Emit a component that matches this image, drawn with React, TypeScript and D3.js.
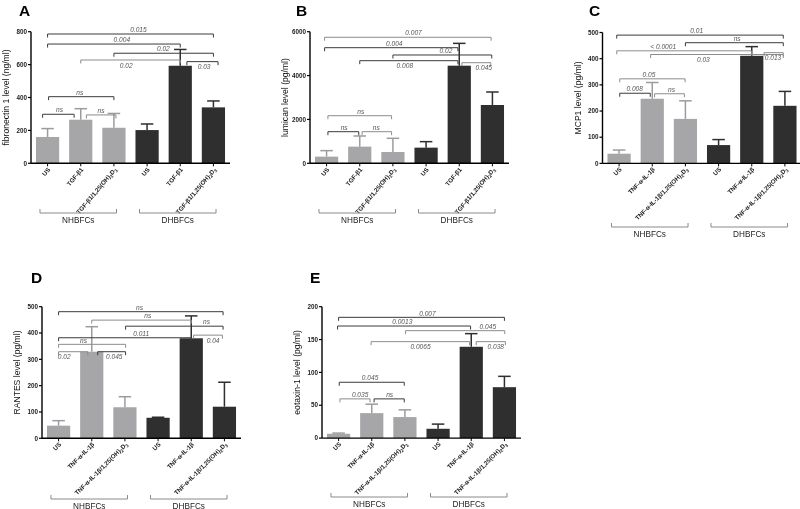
import React from "react";
import * as d3 from "d3";

// ---------- categories ----------
const catsTGF = ["US", "TGF-β1", "TGF-β1/1,25(OH)₂D₃", "US", "TGF-β1", "TGF-β1/1,25(OH)₂D₃"];
const catsTNF = ["US", "TNF-α-IL-1β", "TNF-α-IL-1β/1,25(OH)₂D₃", "US", "TNF-α-IL-1β", "TNF-α-IL-1β/1,25(OH)₂D₃"];
const groupNames = ["NHBFCs", "DHBFCs"];

// ---------- values (mean, error) ----------
const fibronectinMean = [160, 265, 216, 202, 593, 340];
const fibronectinErr = [51, 67, 87, 37, 99, 39];
const lumicanMean = [304, 760, 516, 714, 4451, 2658];
const lumicanErr = [273, 485, 623, 273, 1017, 593];
const mcp1Mean = [37, 247, 170, 70, 411, 220];
const mcp1Err = [14, 62, 69, 21, 35, 55];
const rantesMean = [48, 329, 118, 78, 380, 120];
const rantesErr = [19, 95, 40, 2, 85, 93];
const eotaxinMean = [6.6, 38, 32, 14.2, 139, 77.5];
const eotaxinErr = [1, 13.6, 11, 7.1, 20, 16.5];

// ---------- y ticks ----------
const ticksA = [0, 200, 400, 600, 800];
const ticksB = [0, 2000, 4000, 6000];
const ticksC = [0, 100, 200, 300, 400, 500];
const ticksD = [0, 100, 200, 300, 400, 500];
const ticksE = [0, 50, 100, 150, 200];

// ---------- significance brackets: [from idx, to idx, level, p, label idx, below?, grey?] ----------
type Br = [number, number, number, string, number, boolean, boolean];
const bracketsA: Br[] = [
  [0, 5, 786, "0.015", 2.74, false, false],
  [0, 4, 725, "0.004", 2.24, false, false],
  [2, 5, 669, "0.02", 3.49, false, false],
  [1, 4, 628, "0.02", 2.37, true, true],
  [4.2, 5.14, 618, "0.03", 4.72, true, false],
  [0.03, 2, 405, "ns", 0.97, false, false],
  [-0.15, 0.8, 298, "ns", 0.36, false, false],
  [1.17, 2.06, 294, "ns", 1.61, false, true],
];
const bracketsB: Br[] = [
  [-0.06, 4.96, 5745, "0.007", 2.62, false, true],
  [-0.06, 3.96, 5271, "0.004", 2.04, false, false],
  [2, 4.98, 4938, "0.02", 3.6, false, false],
  [1, 3.96, 4678, "0.008", 2.36, true, false],
  [4.08, 4.95, 4587, "0.045", 4.74, true, true],
  [0.04, 1.96, 2170, "ns", 1.03, false, true],
  [0.04, 0.97, 1441, "ns", 0.53, false, false],
  [1.07, 1.96, 1441, "ns", 1.5, false, true],
];
const bracketsC: Br[] = [
  [-0.07, 4.95, 490, "0.01", 2.34, false, false],
  [2, 4.95, 461, "ns", 3.56, false, false],
  [-0.07, 3.99, 430, "< 0.0001", 1.33, false, true],
  [0.95, 4.95, 416, "0.03", 2.54, true, true],
  [4.37, 4.95, 423, "0.013", 4.64, true, true],
  [0.02, 1.99, 323, "0.05", 0.9, false, true],
  [0.02, 0.94, 268, "0.008", 0.47, false, false],
  [1.07, 1.97, 266, "ns", 1.58, false, true],
];
const bracketsD: Br[] = [
  [0, 4.96, 481, "ns", 2.44, false, false],
  [1.0, 4.0, 449, "ns", 2.69, false, true],
  [2.02, 4.96, 426, "ns", 4.46, false, false],
  [0, 4.0, 382, "0.011", 2.49, false, false],
  [4.07, 4.94, 392, "0.04", 4.66, true, true],
  [0, 2.02, 357, "ns", 0.75, false, true],
  [0, 0.88, 329, "0.02", 0.17, true, true],
  [1.18, 2.02, 329, "0.045", 1.68, true, false],
];
const bracketsE: Br[] = [
  [0, 5, 183.8, "0.007", 2.68, false, false],
  [-0.03, 3.98, 170.6, "0.0013", 1.92, false, false],
  [2.02, 5.01, 163.5, "0.045", 4.5, false, true],
  [0.98, 3.95, 146.8, "0.0065", 2.47, true, true],
  [4.15, 5.03, 146.8, "0.038", 4.74, true, true],
  [0.02, 1.98, 85, "0.045", 0.95, false, false],
  [0.04, 0.95, 59.7, "0.035", 0.65, false, true],
  [1.07, 1.98, 59.7, "ns", 1.54, false, false],
];

const FONT = "Arial, 'Liberation Sans', Helvetica, sans-serif";
const LIGHT = "#a6a6a8";
const DARK = "#2f2f2f";

function SubLabel({ text }: { text: string }) {
  const parts = text.split(/([₂₃])/).filter((p) => p.length > 0);
  let shifted = false;
  return (
    <>
      {parts.map((p, i) => {
        const sub = p === "₂" || p === "₃";
        let dy = 0;
        if (sub && !shifted) dy = 1.5;
        if (!sub && shifted) dy = -1.5;
        shifted = sub;
        return (
          <tspan key={i} dy={dy} fontSize={sub ? 4.6 : undefined}>
            {sub ? (p === "₂" ? "2" : "3") : p}
          </tspan>
        );
      })}
    </>
  );
}

type Cfg = {
  x0: number;
  yBase: number;
  yTop: number;
  yMax: number;
  ticks: number[];
  cats: string[];
  means: number[];
  errs: number[];
  brackets: Br[];
  ylabel: string;
  letter: string;
  letterX: number;
  letterY: number;
  groupY: number;
  angle: number;
};

function Panel({ c }: { c: Cfg }) {
  const idx = d3.range(6);
  const x = d3
    .scaleBand<number>()
    .domain(idx)
    .range([c.x0, c.x0 + 199])
    .paddingInner(0.3)
    .paddingOuter(0.15);
  const y = d3.scaleLinear().domain([0, c.yMax]).range([c.yBase, c.yTop]);
  const bw = x.bandwidth();
  const cx = (i: number) => (x(i) as number) + bw / 2;
  const xi = d3.scaleLinear().domain([0, 5]).range([cx(0), cx(5)]);
  const capW = bw * 0.27;
  const groups = [
    [0, 2],
    [3, 5],
  ];
  return (
    <g fontFamily={FONT}>
      <text x={c.letterX} y={c.letterY} fontSize={15.5} fontWeight="bold" fill="#000">
        {c.letter}
      </text>
      {/* bars */}
      {idx.map((i) => {
        const col = i < 3 ? LIGHT : DARK;
        const top = y(c.means[i]);
        const cap = y(c.means[i] + c.errs[i]);
        const ecol = i < 3 ? "#9c9c9e" : DARK;
        return (
          <g key={i}>
            <line x1={cx(i)} x2={cx(i)} y1={top} y2={cap} stroke={ecol} strokeWidth={1.5} />
            <line x1={cx(i) - capW} x2={cx(i) + capW} y1={cap} y2={cap} stroke={ecol} strokeWidth={1.5} />
            <rect x={x(i)} y={top} width={bw} height={c.yBase - top} fill={col} />
          </g>
        );
      })}
      {/* y axis */}
      <line x1={c.x0} x2={c.x0} y1={c.yBase} y2={y(c.yMax)} stroke="#000" strokeWidth={1.4} />
      {c.ticks.map((t) => (
        <g key={t}>
          <line x1={c.x0 - 3} x2={c.x0} y1={y(t)} y2={y(t)} stroke="#000" strokeWidth={1.2} />
          <text x={c.x0 - 4} y={y(t) + 2.2} fontSize={6.3} fontWeight="bold" textAnchor="end" fill="#222">
            {t}
          </text>
        </g>
      ))}
      <text
        transform={`translate(${c.x0 - 22},${(c.yBase + c.yTop) / 2}) rotate(-90)`}
        fontSize={8.6}
        textAnchor="middle"
        fill="#111"
      >
        {c.ylabel}
      </text>
      {/* x axis */}
      <line x1={c.x0} x2={c.x0 + 199} y1={c.yBase} y2={c.yBase} stroke="#000" strokeWidth={1.4} />
      {idx.map((i) => (
        <g key={i}>
          <line x1={cx(i)} x2={cx(i)} y1={c.yBase} y2={c.yBase + 3} stroke="#000" strokeWidth={1} />
          <text
            transform={`translate(${cx(i) + 3},${c.yBase + 6.5}) rotate(${c.angle})`}
            fontSize={6.2}
            fontWeight="bold"
            textAnchor="end"
            fill="#222"
          >
            <SubLabel text={c.cats[i]} />
          </text>
        </g>
      ))}
      {/* group brackets */}
      {groups.map(([a, b], gi) => {
        const l = (x(a) as number) + 4;
        const r = (x(b) as number) + bw - 9;
        return (
          <g key={gi}>
            <path d={`M${l},${c.groupY - 4}V${c.groupY}H${r}V${c.groupY - 4}`} fill="none" stroke="#8a8a8a" strokeWidth={1} />
            <text x={(l + r) / 2} y={c.groupY + 9.5} fontSize={8.2} textAnchor="middle" fill="#222">
              {groupNames[gi]}
            </text>
          </g>
        );
      })}
      {/* significance brackets */}
      {c.brackets.map(([a, b, lv, p, lx, below, grey], k) => {
        const yy = y(lv);
        const xa = xi(a);
        const xb = xi(b);
        const col = grey ? "#8c8c8c" : "#3a3a3a";
        return (
          <g key={k}>
            <path d={`M${xa},${yy + 3.5}V${yy}H${xb}V${yy + 3.5}`} fill="none" stroke={col} strokeWidth={1} />
            <text
              x={xi(lx)}
              y={below ? yy + 7.6 : yy - 1.8}
              fontSize={6.6}
              fontStyle="italic"
              textAnchor="middle"
              fill="#555"
            >
              {p}
            </text>
          </g>
        );
      })}
    </g>
  );
}

const panels: Cfg[] = [
  {
    x0: 31, yBase: 163.3, yTop: 31.7, yMax: 800, ticks: ticksA, cats: catsTGF,
    means: fibronectinMean, errs: fibronectinErr, brackets: bracketsA,
    ylabel: "fibronectin 1 level (ng/ml)", letter: "A", letterX: 19, letterY: 15.5, groupY: 213, angle: -50,
  },
  {
    x0: 310, yBase: 163.3, yTop: 31.7, yMax: 6000, ticks: ticksB, cats: catsTGF,
    means: lumicanMean, errs: lumicanErr, brackets: bracketsB,
    ylabel: "lumican level (pg/ml)", letter: "B", letterX: 296, letterY: 15.5, groupY: 213, angle: -50,
  },
  {
    x0: 602.5, yBase: 163.4, yTop: 32.5, yMax: 500, ticks: ticksC, cats: catsTNF,
    means: mcp1Mean, errs: mcp1Err, brackets: bracketsC,
    ylabel: "MCP1 level (pg/ml)", letter: "C", letterX: 589, letterY: 15.5, groupY: 227, angle: -45,
  },
  {
    x0: 42, yBase: 438.3, yTop: 306.7, yMax: 500, ticks: ticksD, cats: catsTNF,
    means: rantesMean, errs: rantesErr, brackets: bracketsD,
    ylabel: "RANTES level (pg/ml)", letter: "D", letterX: 31, letterY: 283, groupY: 499, angle: -45,
  },
  {
    x0: 322, yBase: 438.1, yTop: 306.7, yMax: 200, ticks: ticksE, cats: catsTNF,
    means: eotaxinMean, errs: eotaxinErr, brackets: bracketsE,
    ylabel: "eotaxin-1 level (pg/ml)", letter: "E", letterX: 310, letterY: 283, groupY: 497, angle: -45,
  },
];

export default function App() {
  return (
    <svg
      width={800}
      height={509}
      viewBox="0 0 800 509"
      style={{ position: "absolute", left: 0, top: 0, background: "#fff", willChange: "transform" }}
    >
      <rect x={0} y={0} width={800} height={509} fill="#fff" />
      {panels.map((p) => (
        <Panel key={p.letter} c={p} />
      ))}
    </svg>
  );
}
